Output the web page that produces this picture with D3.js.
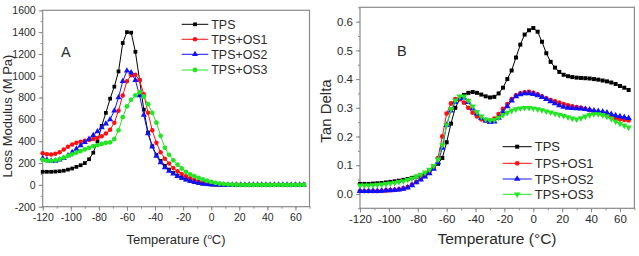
<!DOCTYPE html>
<html>
<head>
<meta charset="utf-8">
<script src="https://cdn.jsdelivr.net/npm/d3@7"></script>
<style>
  body { margin: 0; background: #fff; }
  svg { display: block; font-family: "Liberation Sans", Arial, sans-serif; }
</style>
</head>
<body>
<script>
// temperature grid shared by every series (°C)
const temps = [-120,-117,-114,-111,-108,-105,-102,-99,-96,-93,-90,-87,-84,-81,-78,-75,-72,-69,-66,-63,-60,-57,-54,-51,-48,-45,-42,-39,-36,-33,-30,-27,-24,-21,-18,-15,-12,-9,-6,-3,0,3,6,9,12,15,18,21,24,27,30,33,36,39,42,45,48,51,54,57,60,63,66];

const seriesNames = ["TPS", "TPS+OS1", "TPS+OS2", "TPS+OS3"];

// panel A: loss modulus (MPa)
const lossTPS = [120,120,120,122,125,130, 140,150,165,180,200,235, 295,400,540,660,790,900, 1040,1300,1400,1395,1220,960, 690,480,355,275,220,175, 140,110,85,65,50,37, 26,18,11,6,3,2, 1,1,0,0,0,0, 0,0,0,0,0,0, 0,0,0,0,0,0, 0,0,2];
const lossOS1 = [290,280,278,285,300,325, 350,370,385,395,405,412, 420,430,445,470,505,570, 680,820,950,1005,1010,960, 830,660,500,385,300,240, 195,155,125,100,78,60, 45,33,23,15,9,5, 3,2,1,1,0,0, 0,0,0,0,0,0, 0,0,0,0,0,0, 0,0,1];
const lossOS2 = [245,230,220,220,230,245, 270,300,330,360,390,420, 455,490,525,560,600,680, 800,950,1045,1030,960,820, 640,470,350,265,205,160, 128,102,80,62,48,36, 26,18,11,6,3,2, 1,0,0,0,0,0, 0,0,0,0,0,0, 0,0,0,0,0,0, 0,0,1];
const lossOS3 = [230,220,220,225,235,250, 265,280,295,310,325,340, 355,365,375,385,390,420, 500,620,720,780,820,850, 810,740,660,570,450,340, 275,225,185,150,120,97, 80,65,50,38,27,18, 11,7,4,2,1,0, 0,0,0,0,0,0, 0,0,0,0,0,0, 0,0,1];

// panel B: tan delta
const tanTPS = [0.035,0.035,0.035,0.036,0.037,0.038, 0.040,0.042,0.044,0.046,0.049,0.052, 0.056,0.060,0.066,0.073,0.082,0.092, 0.105,0.125,0.180,0.245,0.300,0.330, 0.345,0.352,0.355,0.352,0.346,0.340, 0.336,0.338,0.350,0.370,0.400,0.430, 0.475,0.520,0.555,0.570,0.578,0.565, 0.530,0.490,0.460,0.440,0.425,0.415, 0.410,0.407,0.405,0.404,0.403,0.402, 0.400,0.398,0.395,0.392,0.388,0.383, 0.376,0.370,0.362];
const tanOS1 = [0.010,0.010,0.010,0.010,0.010,0.011, 0.012,0.013,0.014,0.016,0.019,0.024, 0.032,0.042,0.052,0.063,0.076,0.092, 0.125,0.200,0.280,0.315,0.330,0.330, 0.318,0.300,0.283,0.270,0.260,0.255, 0.255,0.262,0.278,0.296,0.313,0.330, 0.343,0.350,0.354,0.355,0.352,0.347, 0.340,0.333,0.327,0.322,0.318,0.313, 0.308,0.305,0.302,0.300,0.296,0.292, 0.287,0.282,0.277,0.272,0.268,0.263, 0.260,0.258,0.256];
const tanOS2 = [0.010,0.010,0.010,0.010,0.010,0.011, 0.012,0.012,0.013,0.015,0.018,0.022, 0.030,0.040,0.050,0.060,0.072,0.087, 0.110,0.160,0.240,0.290,0.320,0.333, 0.335,0.320,0.298,0.280,0.265,0.255, 0.250,0.252,0.265,0.285,0.305,0.325, 0.340,0.347,0.350,0.350,0.348,0.343, 0.337,0.330,0.322,0.315,0.308,0.303, 0.300,0.299,0.298,0.297,0.295,0.293, 0.290,0.288,0.286,0.283,0.278,0.273, 0.270,0.267,0.264];
const tanOS3 = [0.030,0.030,0.030,0.031,0.032,0.033, 0.035,0.037,0.039,0.042,0.045,0.049, 0.054,0.060,0.067,0.075,0.085,0.098, 0.120,0.170,0.240,0.295,0.325,0.340, 0.340,0.325,0.305,0.285,0.270,0.260, 0.256,0.258,0.266,0.275,0.283,0.290, 0.295,0.298,0.300,0.300,0.298,0.295, 0.292,0.288,0.284,0.280,0.276,0.272, 0.268,0.263,0.260,0.264,0.270,0.275, 0.278,0.278,0.275,0.270,0.262,0.252, 0.245,0.238,0.232];

const xTickLabels = [-120,-100,-80,-60,-40,-20,0,20,40,60];
const yTicksA = [-200,0,200,400,600,800,1000,1200,1400,1600];
const yTicksB = [0.0,0.1,0.2,0.3,0.4,0.5,0.6];

const colors = ["#000000", "#ff1010", "#1010ff", "#22e622"];
const frameColor = "#8a8a8a";
const textColor = "#2a2a2a";

// plain hyphen instead of d3's unicode minus
const hyphen = f => v => f(v).replace("\u2212", "-");

const svg = d3.select("body").append("svg")
    .attr("width", 639)
    .attr("height", 256);

svg.append("rect").attr("width", 639).attr("height", 256).attr("fill", "#fff");

function drawPanel(cfg) {
    const x = d3.scaleLinear().domain([-120, 70]).range([cfg.left, cfg.right]);
    const y = d3.scaleLinear().domain(cfg.yDomain).range([cfg.bottom, cfg.top]);
    const g = svg.append("g");

    // minor ticks
    const minorX = d3.range(-120, 71, 10);
    const minorY = d3.range(cfg.yDomain[0], cfg.yDomain[1] + cfg.minorStep / 2, cfg.minorStep);

    g.append("g")
        .attr("transform", "translate(0," + cfg.bottom + ")")
        .call(d3.axisBottom(x).tickValues(minorX).tickSize(2).tickFormat(""))
        .call(a => a.select(".domain").remove())
        .call(a => a.selectAll("line").attr("stroke", frameColor));
    g.append("g")
        .attr("transform", "translate(" + cfg.left + ",0)")
        .call(d3.axisLeft(y).tickValues(minorY).tickSize(2).tickFormat(""))
        .call(a => a.select(".domain").remove())
        .call(a => a.selectAll("line").attr("stroke", frameColor));

    // major ticks + labels
    g.append("g")
        .attr("transform", "translate(0," + cfg.bottom + ")")
        .call(d3.axisBottom(x).tickValues(xTickLabels).tickSize(4).tickPadding(cfg.xPad).tickFormat(hyphen(d3.format("d"))))
        .call(a => a.select(".domain").remove())
        .call(a => a.selectAll("line").attr("stroke", frameColor))
        .call(a => a.selectAll("text").attr("fill", textColor)
            .attr("font-size", cfg.tickFont).attr("font-family", "Liberation Sans, Arial, sans-serif"));
    g.append("g")
        .attr("transform", "translate(" + cfg.left + ",0)")
        .call(d3.axisLeft(y).tickValues(cfg.yTicks).tickSize(4).tickPadding(3).tickFormat(hyphen(cfg.yFormat)))
        .call(a => a.select(".domain").remove())
        .call(a => a.selectAll("line").attr("stroke", frameColor))
        .call(a => a.selectAll("text").attr("fill", textColor)
            .attr("font-size", cfg.tickFont).attr("font-family", "Liberation Sans, Arial, sans-serif"));

    // frame
    g.append("rect")
        .attr("x", cfg.left).attr("y", cfg.top)
        .attr("width", cfg.right - cfg.left).attr("height", cfg.bottom - cfg.top)
        .attr("fill", "none").attr("stroke", frameColor).attr("stroke-width", 1.2);

    const line = d3.line().x((d, i) => x(temps[i])).y(d => y(d));

    cfg.series.forEach((vals, k) => {
        g.append("path")
            .datum(vals)
            .attr("fill", "none")
            .attr("stroke", colors[k])
            .attr("stroke-width", 1)
            .attr("d", line);
        const sym = d3.symbol().type(cfg.symbols[k]).size(cfg.symSize[k]);
        g.selectAll(null)
            .data(vals)
            .join("path")
            .attr("d", sym)
            .attr("fill", colors[k])
            .attr("transform", (d, i) => "translate(" + x(temps[i]) + "," + y(d) + ")" + (cfg.flip[k] ? " rotate(180)" : ""));
    });

    // legend
    const lg = g.append("g");
    seriesNames.forEach((name, k) => {
        const ly = cfg.legend.y[k];
        lg.append("line")
            .attr("x1", cfg.legend.x1).attr("x2", cfg.legend.x2)
            .attr("y1", ly).attr("y2", ly)
            .attr("stroke", colors[k]).attr("stroke-width", 1);
        lg.append("path")
            .attr("d", d3.symbol().type(cfg.symbols[k]).size(cfg.symSize[k])())
            .attr("fill", colors[k])
            .attr("transform", "translate(" + (cfg.legend.x1 + cfg.legend.x2) / 2 + "," + ly + ")" + (cfg.flip[k] ? " rotate(180)" : ""));
        lg.append("text")
            .attr("x", cfg.legend.x2 + 3).attr("y", ly)
            .attr("dy", "0.36em")
            .attr("font-size", cfg.legend.font)
            .attr("fill", textColor)
            .text(name);
    });

    // panel letter
    g.append("text")
        .attr("x", cfg.letter.x).attr("y", cfg.letter.y)
        .attr("font-size", 14.5).attr("fill", textColor)
        .text(cfg.letter.text);

    return { g, x, y };
}

const pA = drawPanel({
    left: 42.7, right: 309.5, top: 10.3, bottom: 206.7,
    yDomain: [-200, 1600], yTicks: yTicksA, minorStep: 100,
    yFormat: d3.format("d"), tickFont: 10.5, xPad: 3,
    series: [lossTPS, lossOS1, lossOS2, lossOS3],
    symbols: [d3.symbolSquare, d3.symbolCircle, d3.symbolTriangle, d3.symbolCircle],
    symSize: [14, 16, 16, 18], flip: [false, false, false, false],
    legend: { x1: 181.7, x2: 208.3, y: [24.3, 39.3, 54.3, 70], font: 12.4 },
    letter: { x: 61, y: 56.7, text: "A" }
});

const pB = drawPanel({
    left: 360, right: 634.4, top: 7.3, bottom: 208.3,
    yDomain: [-0.05, 0.65], yTicks: yTicksB, minorStep: 0.05,
    yFormat: d3.format(".1f"), tickFont: 11.5, xPad: 3,
    series: [tanTPS, tanOS1, tanOS2, tanOS3],
    symbols: [d3.symbolSquare, d3.symbolCircle, d3.symbolTriangle, d3.symbolTriangle],
    symSize: [16, 18, 18, 18], flip: [false, false, false, true],
    legend: { x1: 502.7, x2: 531.7, y: [146.7, 163.3, 179, 194.3], font: 13 },
    letter: { x: 397, y: 56, text: "B" }
});

// axis titles
const tA = svg.append("text")
    .attr("x", 176).attr("y", 244)
    .attr("text-anchor", "middle")
    .attr("font-size", 13).attr("fill", textColor);
tA.append("tspan").text("Temperature (");
tA.append("tspan").attr("font-size", 8).attr("dy", -5).text("o");
tA.append("tspan").attr("dy", 5).text("C)");

svg.append("text")
    .attr("transform", "translate(11.5,116) rotate(-90)")
    .attr("text-anchor", "middle")
    .attr("font-size", 13).attr("fill", textColor)
    .text("Loss Modulus (M Pa)");

svg.append("text")
    .attr("x", 497).attr("y", 244)
    .attr("text-anchor", "middle")
    .attr("font-size", 15.5).attr("fill", textColor)
    .text("Temperature (°C)");

svg.append("text")
    .attr("transform", "translate(331,111) rotate(-90)")
    .attr("text-anchor", "middle")
    .attr("font-size", 15).attr("fill", textColor)
    .text("Tan Delta");
</script>
</body>
</html>
